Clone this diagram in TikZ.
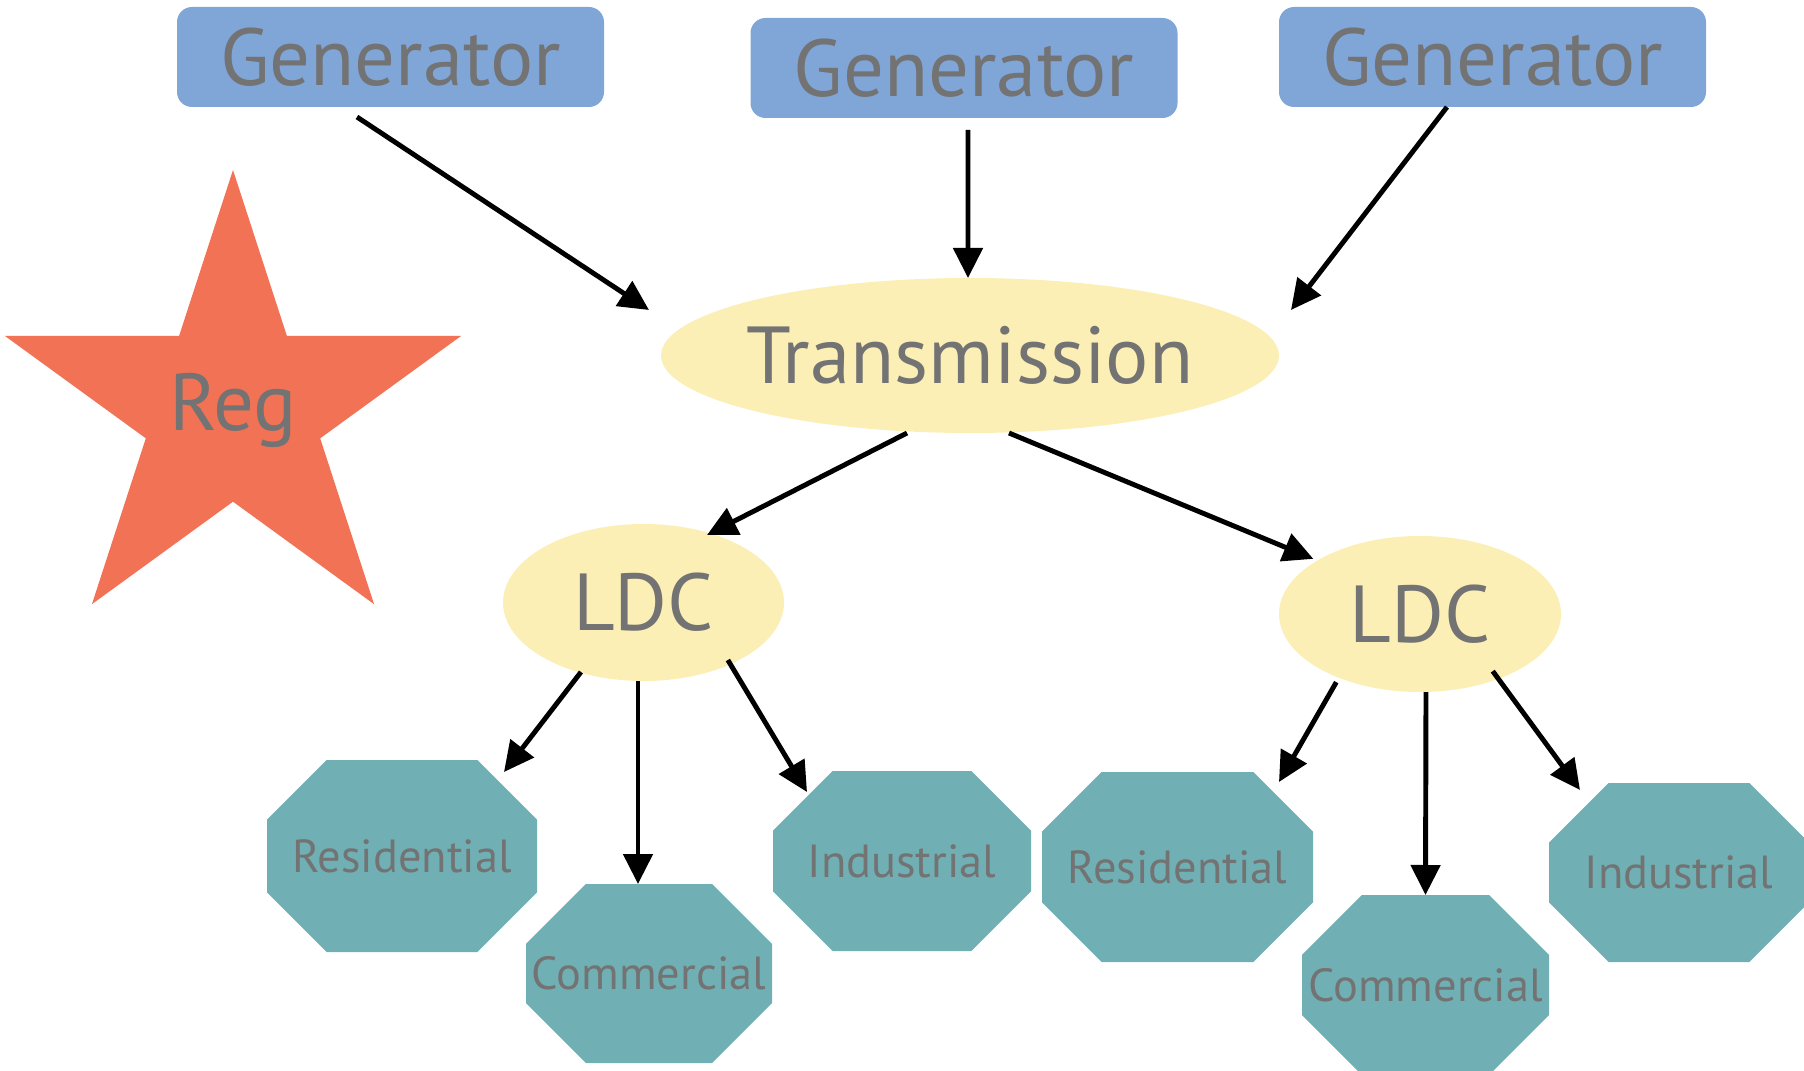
\documentclass[tikz,border=0pt]{standalone}
\usepackage{fontspec}
\setmainfont{PT Sans}
\usetikzlibrary{shapes.geometric, shapes.misc, arrows.meta}

\definecolor{genblue}{HTML}{80A6D8}
\definecolor{hubyellow}{HTML}{FBEFB5}
\definecolor{regred}{HTML}{F27255}
\definecolor{custteal}{HTML}{70B0B4}
\definecolor{labelgray}{HTML}{737373}

\begin{document}
\begin{tikzpicture}[
    generator/.style={rectangle, rounded corners=0.15cm, fill=genblue, text=labelgray,
      minimum width=4.27cm, minimum height=1.0cm, inner sep=0pt, outer sep=0pt,
      font=\fontsize{23}{23}\selectfont},
    hub/.style={ellipse, fill=hubyellow, text=labelgray, inner sep=0pt, outer sep=0pt,
      font=\fontsize{23}{23}\selectfont},
    customer/.style={chamfered rectangle, chamfered rectangle xsep=0.43cm,
      chamfered rectangle ysep=0.43cm, fill=custteal, text=labelgray,
      inner sep=0pt, outer sep=0pt, font=\fontsize{13.2}{13.2}\selectfont},
    supply/.style={line width=1.4pt, -{Triangle[length=0.3cm, width=0.29cm]}}]

  \useasboundingbox (0,0) rectangle (18.04,-10.71);
  \clip (0,0) rectangle (18.04,-10.71);

  % Generators
  \node[generator] (gen1) at (3.905,-0.57) {Generator};
  \node[generator] (gen2) at (9.64,-0.68) {Generator};
  \node[generator] (gen3) at (14.925,-0.57) {Generator};

  % Regulator
  \node[star, star points=5, star point ratio=2.618, minimum size=4.8cm,
    inner sep=0pt, fill=regred, text=labelgray,
    font=\fontsize{23}{23}\selectfont] (reg) at (2.33,-4.10) {Reg};

  % Transmission and LDCs
  \node[hub, minimum width=6.18cm, minimum height=1.55cm] (trans) at (9.70,-3.555) {\makebox[0pt]{Transmission}};
  \node[hub, minimum width=2.81cm, minimum height=1.57cm] (ldc1) at (6.435,-6.025) {LDC};
  \node[hub, minimum width=2.82cm, minimum height=1.56cm] (ldc2) at (14.20,-6.14) {LDC};

  % Customers
  \node[customer, minimum width=2.70cm, minimum height=1.92cm] (res1) at (4.02,-8.56) {Residential};
  \node[customer, minimum width=2.46cm, minimum height=1.79cm] (com1) at (6.49,-9.735) {\makebox[1.85cm]{Commercial}};
  \node[customer, minimum width=2.58cm, minimum height=1.80cm] (ind1) at (9.02,-8.61) {Industrial};
  \node[customer, minimum width=2.71cm, minimum height=1.90cm] (res2) at (11.775,-8.67) {Residential};
  \node[customer, minimum width=2.47cm, minimum height=1.80cm] (com2) at (14.255,-9.85) {\makebox[1.85cm]{Commercial}};
  \node[customer, minimum width=2.60cm, minimum height=1.79cm] (ind2) at (16.79,-8.725) {Industrial};

  % Generators feed transmission
  \draw[supply] ([shift={(-0.335,-0.10)}]gen1.south) -- ([shift={(-0.12,0.455)}]trans.west);
  \draw[supply] ([shift={(0.04,-0.12)}]gen2.south) -- ([xshift=-0.02cm]trans.north);
  \draw[supply] ([xshift=-0.455cm]gen3.south) -- ([shift={(0.12,0.455)}]trans.east);

  % Transmission to LDCs
  \draw[supply] ([xshift=-0.63cm]trans.south) -- ([shift={(0.635,-0.11)}]ldc1.north);
  \draw[supply] ([xshift=0.39cm]trans.south) -- ([xshift=-0.07cm]ldc2.north west);

  % LDCs to customers
  \draw[supply] ([shift={(-0.625,0.09)}]ldc1.south) -- ([shift={(1.02,-0.12)}]res1.north);
  \draw[supply] ([xshift=-0.055cm]ldc1.south) -- ([xshift=-0.11cm]com1.north);
  \draw[supply] ([shift={(-0.15,-0.02)}]ldc1.south east) -- ([shift={(-0.95,-0.21)}]ind1.north);
  \draw[supply] ([shift={(0.16,-0.13)}]ldc2.south west) -- ([shift={(1.015,-0.10)}]res2.north);
  \draw[supply] ([xshift=0.06cm]ldc2.south) -- (com2.north);
  \draw[supply] ([shift={(-0.27,-0.02)}]ldc2.south east) -- ([shift={(-0.99,-0.07)}]ind2.north);
\end{tikzpicture}
\end{document}
